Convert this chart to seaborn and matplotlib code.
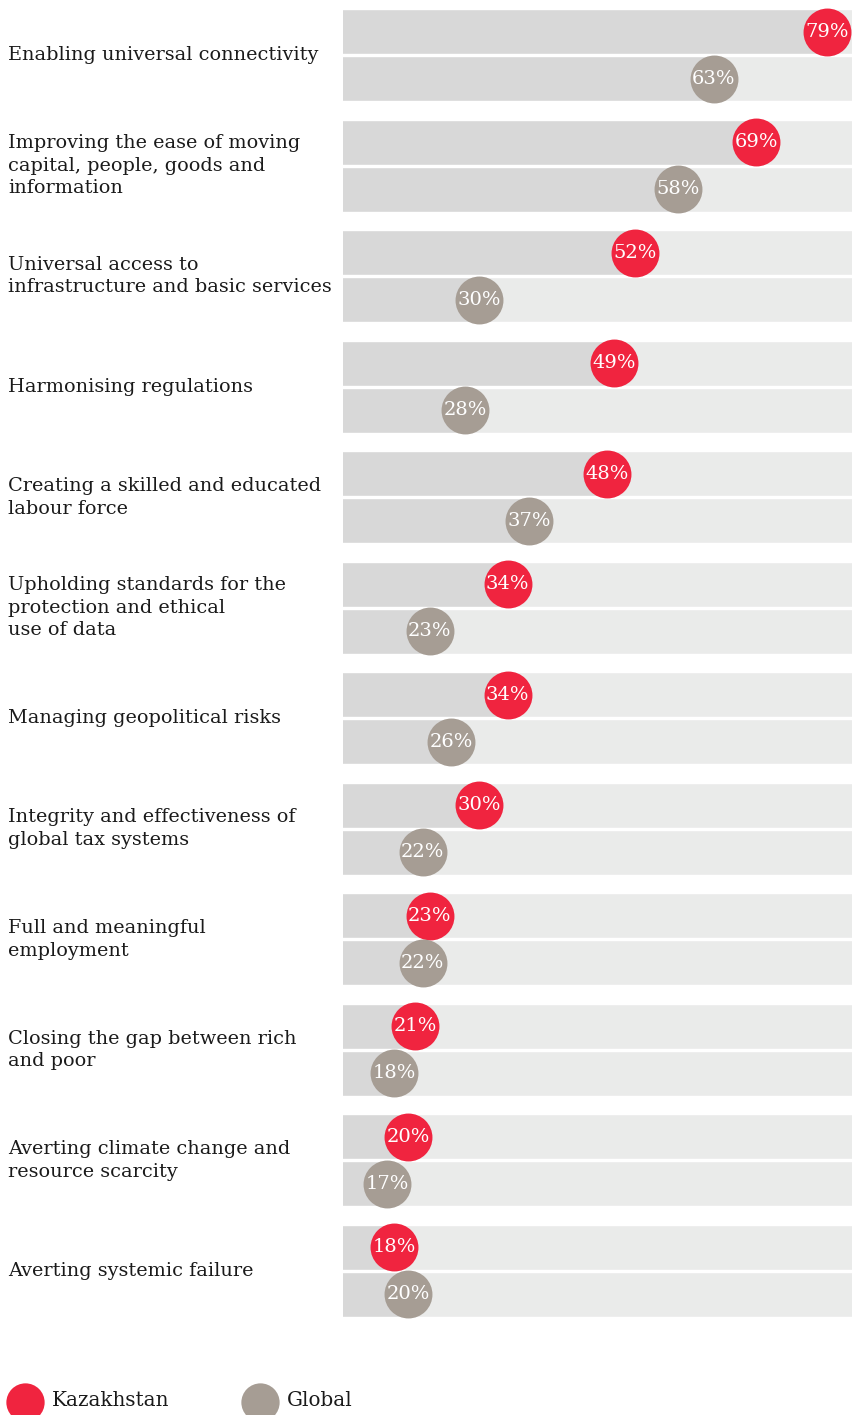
import matplotlib
matplotlib.use("Agg")
import matplotlib.pyplot as plt
import matplotlib.transforms as mtransforms
import seaborn as sns
import pandas as pd

categories = [
    "Enabling universal connectivity",
    "Improving the ease of moving\ncapital, people, goods and\ninformation",
    "Universal access to\ninfrastructure and basic services",
    "Harmonising regulations",
    "Creating a skilled and educated\nlabour force",
    "Upholding standards for the\nprotection and ethical\nuse of data",
    "Managing geopolitical risks",
    "Integrity and effectiveness of\nglobal tax systems",
    "Full and meaningful\nemployment",
    "Closing the gap between rich\nand poor",
    "Averting climate change and\nresource scarcity",
    "Averting systemic failure",
]
kazakhstan = [79, 69, 52, 49, 48, 34, 34, 30, 23, 21, 20, 18]
global_vals = [63, 58, 30, 28, 37, 23, 26, 22, 22, 18, 17, 20]
series = ["Kazakhstan", "Global"]

RED = "#F0243F"
GREY = "#A69D94"
BAR_DARK = "#D8D8D8"
BAR_LIGHT = "#EAEBEA"
TEXT = "#1A1A1A"
FONT = "DejaVu Serif"

XMIN, XMAX = 10.8, 82.5

rows = []
for c, k, g in zip(categories, kazakhstan, global_vals):
    rows.append({"category": c, "series": series[0], "value": k, "full": XMAX + 5})
    rows.append({"category": c, "series": series[1], "value": g, "full": XMAX + 5})
df = pd.DataFrame(rows)

sns.set_theme(style="white")
plt.rcParams["font.family"] = [FONT, "DejaVu Sans"]

W, H = 852, 1415
fig = plt.figure(figsize=(W / 100, H / 100), dpi=100)
ax = fig.add_axes([343 / W, 1 - 1317 / H, 1 - 343 / W, (1317 - 9) / H])

# background (full-width) bars
sns.barplot(data=df, y="category", x="full", hue="series", hue_order=series,
            palette=[BAR_LIGHT, BAR_LIGHT], orient="h", width=0.85, gap=0.04,
            errorbar=None, legend=False, ax=ax, saturation=1, order=categories)
n_bg = len(ax.containers)
# value bars
sns.barplot(data=df, y="category", x="value", hue="series", hue_order=series,
            palette=[BAR_DARK, BAR_DARK], orient="h", width=0.85, gap=0.04,
            errorbar=None, legend=False, ax=ax, saturation=1, order=categories)

ax.set_xlim(XMIN, XMAX)
tops = [p.get_y() for p in ax.patches]
bottoms = [p.get_y() + p.get_height() for p in ax.patches]
ax.set_ylim(max(bottoms), min(tops))
for s in ax.spines.values():
    s.set_visible(False)
ax.set_xticks([])
ax.set_yticks([])
ax.set_xlabel("")
ax.set_ylabel("")

# circles with labels, positioned at the dodged bar centres
value_containers = ax.containers[n_bg:]
colors = [RED, GREY]
data_lists = [kazakhstan, global_vals]
for cont, col, vals in zip(value_containers, colors, data_lists):
    ys = [b.get_y() + b.get_height() / 2 for b in cont]
    ax.scatter(vals, ys, s=1190, color=col, linewidths=0, zorder=5, clip_on=False)
    for v, y in zip(vals, ys):
        ax.text(v, y, f"{v}%", ha="center", va="center", color="white",
                fontsize=14, family=FONT, zorder=6, clip_on=False)

# category labels
trans = mtransforms.blended_transform_factory(fig.transFigure, ax.transData)
for i, c in enumerate(categories):
    ax.text(8 / W, i, c, transform=trans, ha="left", va="center",
            fontsize=13.9, color=TEXT, family=FONT, linespacing=1.33)

# legend
lax = fig.add_axes([0, 0, 1, 1], zorder=10)
lax.set_xlim(0, W)
lax.set_ylim(H, 0)
lax.axis("off")
lax.patch.set_alpha(0)
leg_x = [25, 260]
for lx, col, name in zip(leg_x, colors, series):
    lax.scatter([lx], [1402], s=760, color=col, linewidths=0, clip_on=False)
    lax.text(lx + 27, 1401, name, ha="left", va="center", fontsize=14.3,
             color=TEXT, family=FONT)

fig.savefig("out.png", dpi=100)
